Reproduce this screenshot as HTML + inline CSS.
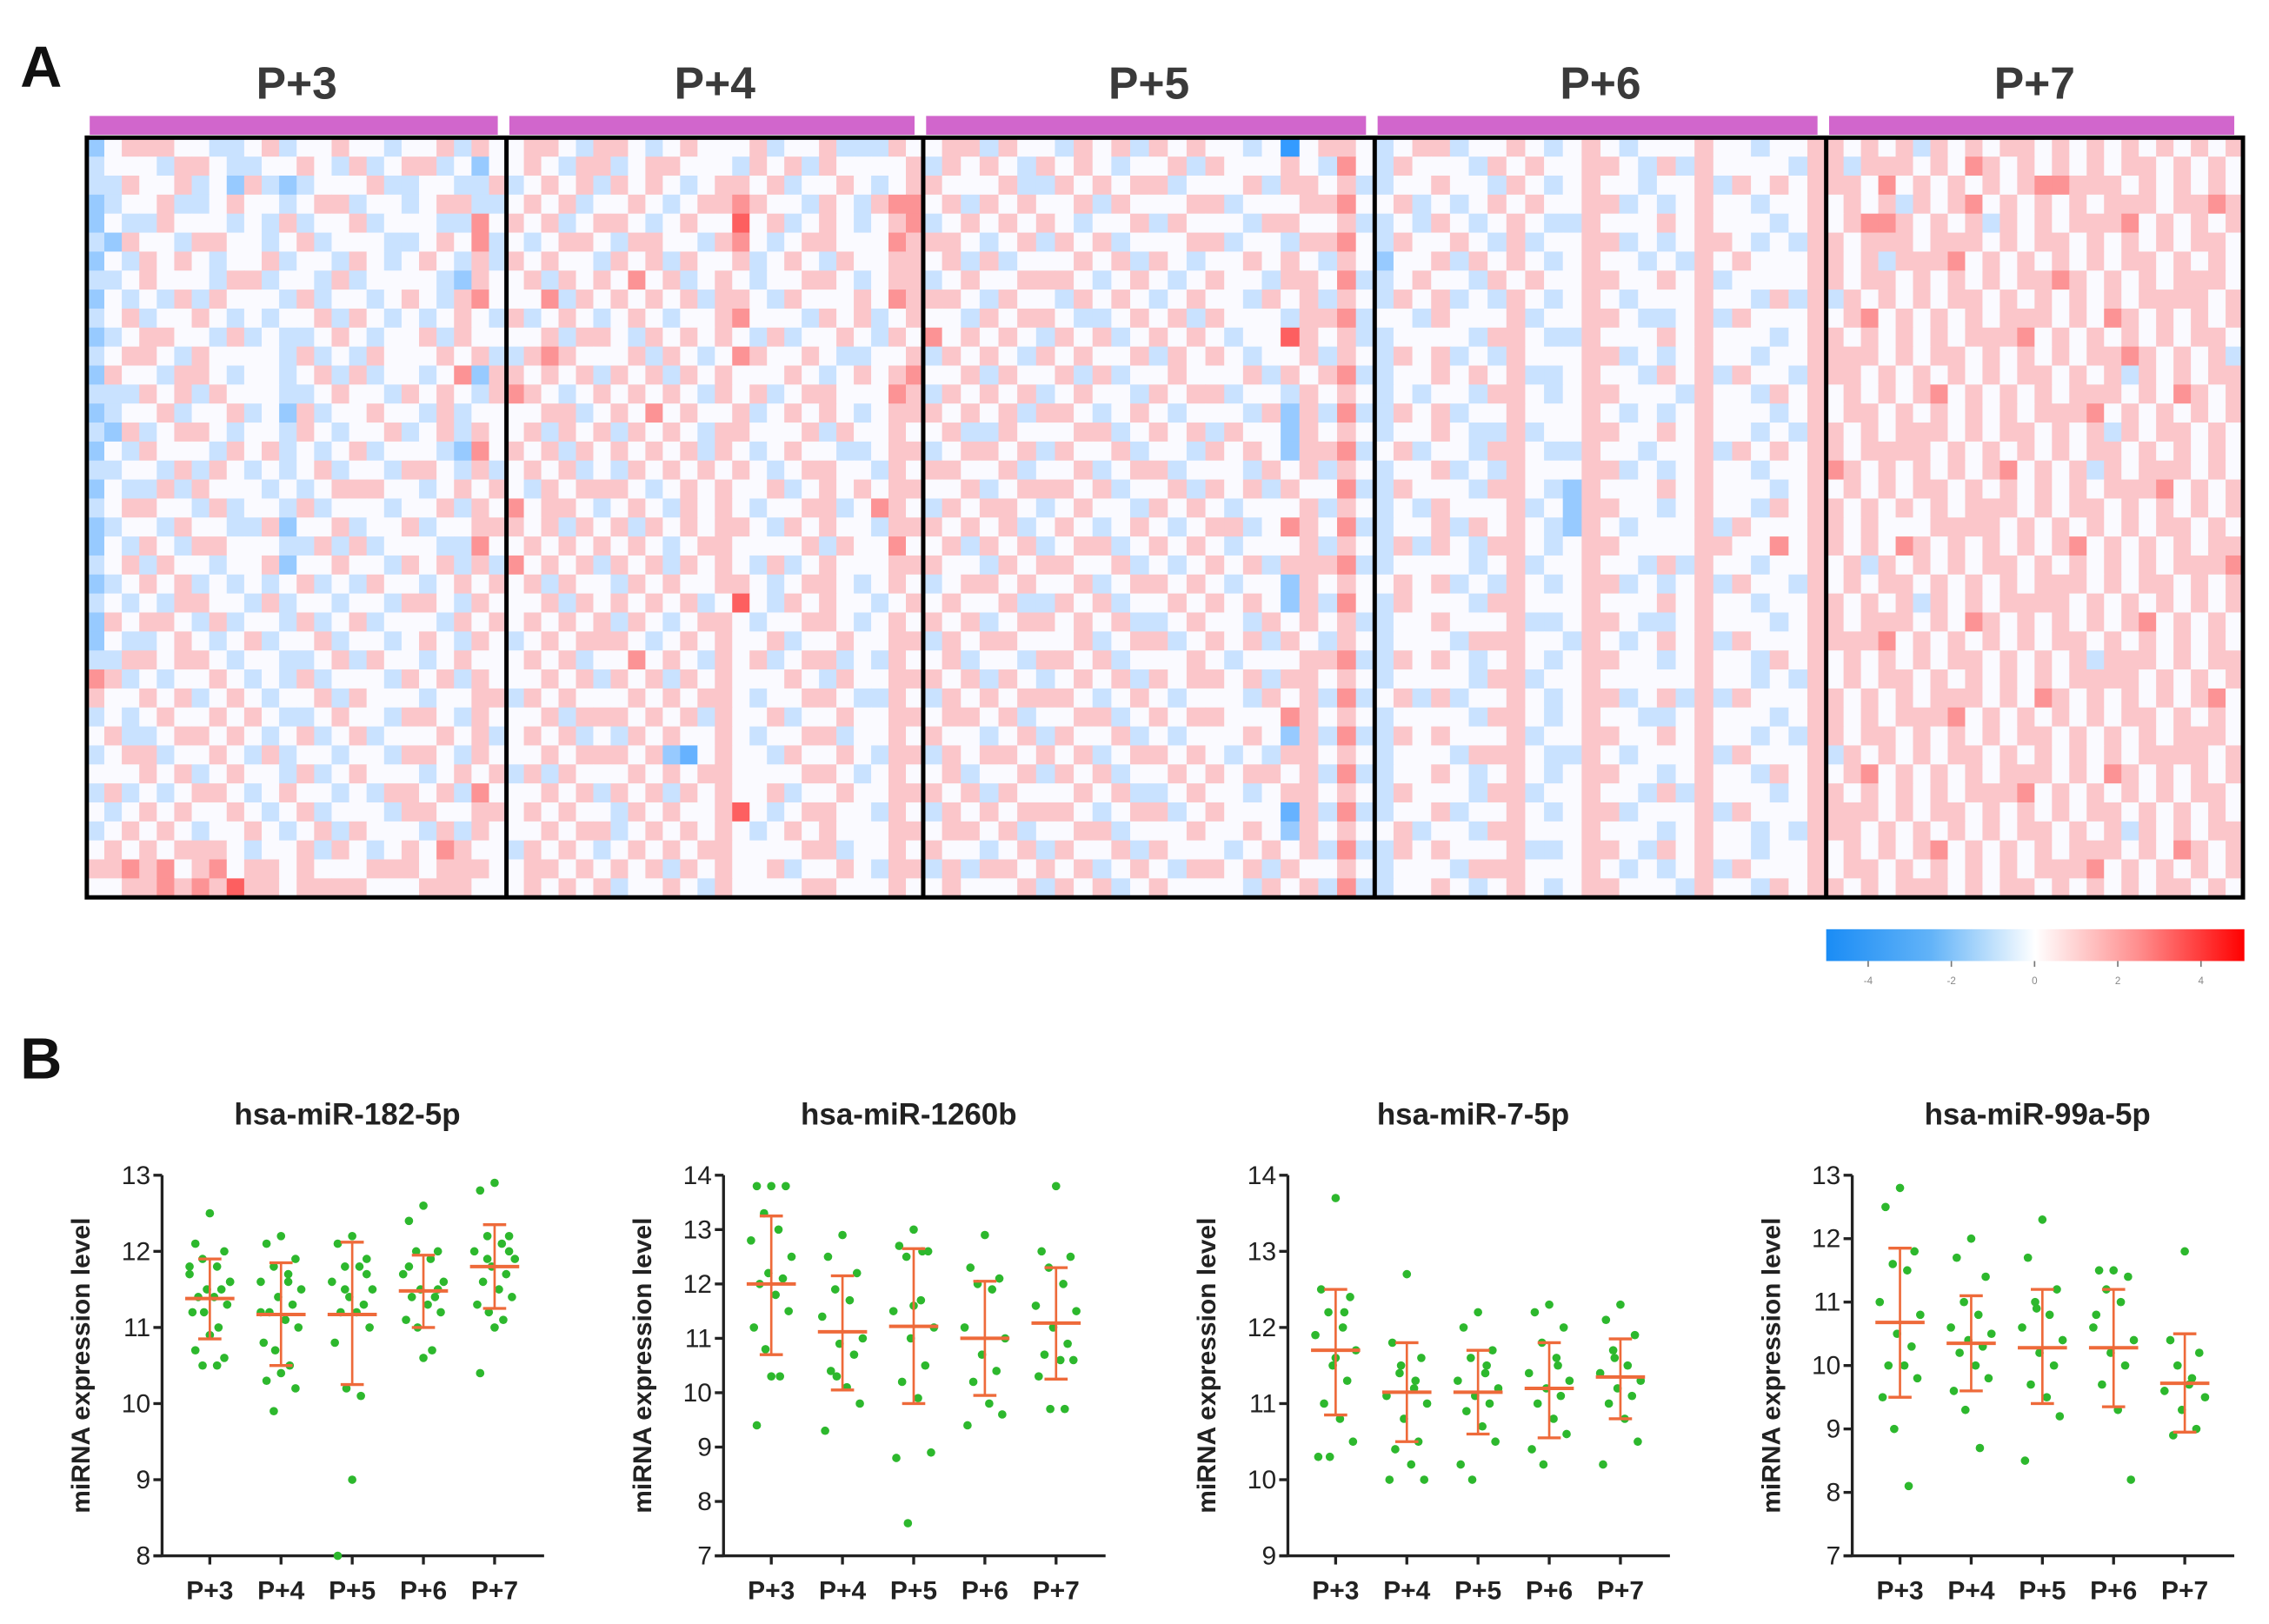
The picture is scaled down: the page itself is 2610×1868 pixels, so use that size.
<!DOCTYPE html>
<html><head><meta charset="utf-8">
<style>
html,body{margin:0;padding:0;background:#fff;}
svg{display:block;font-family:"Liberation Sans",Arial,sans-serif;}
</style></head>
<body>
<svg id="fig" width="2610" height="1868" viewBox="0 0 1568 1122" xmlns="http://www.w3.org/2000/svg">
<rect x="0" y="0" width="1568" height="1122" fill="#fff"/>
<text x="14" y="60" font-size="40" font-weight="bold" fill="#111">A</text>
<text x="14" y="745" font-size="40" font-weight="bold" fill="#111">B</text>
<g id="heat"></g>
<g id="cbar"></g>
<g id="charts"></g>
</svg>
<script>
const NS="http://www.w3.org/2000/svg";
function mk(tag,attrs,parent){const e=document.createElementNS(NS,tag);for(const k in attrs)e.setAttribute(k,attrs[k]);parent.appendChild(e);return e;}

// ---------- Heatmap data ----------
const groups=["P+3","P+4","P+5","P+6","P+7"];
const heatP3=[
"245554433453445443445354","344435543344543534553424","335445342532344453344335","234453345443455344345533",
"243354443435344534443364","325443554434534443345463","243545434453443543454353","334544435534435344443254",
"243435354443534434543564","345344543434453543434543","234554435343345434453544","345543544443534354445453",
"254435543443453534434625","333545354443345443545435","234453445342534454435344","325345543443543445345354",
"243544435453434534443264","334435354343453443554353","243353544434345554434545","345544353443534443445354",
"234435443352445344534455","243543554443353534443364","345354434452445443545353","234545343434534354434545",
"343435544353443443554354","254554353443534534443545","243345434534453443454354","335545543443345354434544",
"653434454343534443545354","544545345434453544434455","343454454543345443554354","453345545434534534445453",
"345534454353443443554354","444545345443534544434545","353434554345443435545364","434545445434534443554455",
"345454344543453544435354","454545554344535434546544","556564564554544455545554","445565657554555544455544"];
const heatP4=[
"455435543454445344533354","454355345544435453544445","345453545434554534454345","454534454345565443543566",
"545345543454474534543456","434554355443564345544465","545443545354453454354455","453545464534543445543455",
"446354545453554354445465","534543454344564443545345","445355435454543534454354","356544453543465445433445",
"545453545354544454345456","654345454543545345544465","445534546454453454543455","453545354543554445354454",
"545354545453543454433455","454534354545454345544354","435455543454544534545455","645543454354543445534654",
"545354535454554354544355","454545454345544445354464","645453545354543534544455","453544354544554345543454",
"445354545453474354544345","454545354345543445543454","345455543454544534454455","454534464543545345534354",
"445453545354544454354455","354544454545543445543354","445355545453544534454455","454534354544543445534454",
"445455545214544354454355","353544454545544445543454","445453545354544534454455","454544354544574345544354",
"445455345454543454544455","354543454545544445534454","455454545354544534454355","454545344543544445544454"];
const heatP5=[
"455354435453545443404554","354543545434453544454364","544453354545534445355453","453545445354445534445564",
"345454543445354443554453","554345354534445534435564","453534445453543445454354","345445554345434544355463",
"554354435454345443545354","443545543345453544435563","645454354534545434475453","354543545445354543445354",
"445354453534454445354563","354545345443545534435454","545453554345434443525363","453354445534545354425454",
"345545354453443545425563","554453445345534443545354","445345554534453545354463","354554345443545434445354",
"545453454345434553465463","453545345534545434445354","544354554453434545355563","345545445345545434425454",
"454453354534454545425364","545345545453345443545453","354554445345534545354354","453443554534445434445563",
"545354345453545545355454","354545554345434443545363","455453445534545544465454","544345354453434445425363",
"354554545345545434355454","453445354534454545545363","545354445453345443455454","354545554345534544415363",
"455453445534445445425454","544345354453544434545363","353554545345435545354454","454445354534544443545363"];
const heatP6=[
"345534454345434445443445","354443545445543535444435","344544354345443445354545","453434545445534345443445",
"343543454335444545444345","354454353445534345543435","244535454345443435454445","345443545445544545344445",
"354534354345434445443535","443544453445543345354445","344443554335444545444345","354534354445534345443445",
"344545453345443545354435","343443554345544435443545","354534454445434345444345","344543353445544545443435",
"453443554335443445354545","344534354445534345443445","354443554325444545444345","343544453425544345443545",
"344535454325434445354445","353543554345544445544645","344443453445443535443445","454534354345534345354435",
"354443554445444545443445","344544453345543345444345","344435554435434545354445","354543454345544345443545",
"344443553445444445443435","453534454345534535354445","344443554345443345444345","354544453445544545443435",
"344435554335434445354445","344543454345544345443545","354443553445443535444345","344534454345534445354445",
"453443554445444345443435","354544453345543545443445","344435554445434345354445","344543454345544435443545"];
const heatP7=[
"545453545455454545454545","454545355545465454545455","555454545455464545454566","454545455545565454535456",
"545453545455564545454566","454555455545455454545455","545454545355564545454545","654545455545455454545455",
"545454545455554535454545","454545455545465454545456","545454545455564545454545","654545355545455454545455",
"545453545455554545454545","454545455545465454545456","545454545455564545454545","454545455545455454535455",
"545454545455554545454545","454535455545465454545456","545454545455564545454545","454545455545455454545455",
"545454544455554545454545","454545455545465454545456","545454545455564535454545","454545455545455454545455",
"545453545455554545454545","454545455545465454545456","545454545455564545454545","454545355545455454545455",
"545454545455554545454545","454545455545465454545456","545454545455564545454545","454545455545455454545455",
"545454545455554535454545","454545455545465454545456","545454545455564545454545","454545455545455454545455",
"545453545455554545454545","454545455545465454545456","545454545455564545454545","454545455545455454545455"];
const heatPanels=[heatP3,heatP4,heatP5,heatP6,heatP7];

const heat=document.getElementById('heat');
const panelEdges=[60,350,638,950,1262,1550];
const hTop=95,hBot=620;
function heatColor(d){
  const v=(d-4)/4;
  const w=[250,250,255];
  const c=v<0?[30,144,255]:[255,20,20];
  const t=Math.min(1,Math.abs(v))*0.9;
  return `rgb(${Math.round(w[0]+(c[0]-w[0])*t)},${Math.round(w[1]+(c[1]-w[1])*t)},${Math.round(w[2]+(c[2]-w[2])*t)})`;
}
heatPanels.forEach((rows,p)=>{
  const x0=panelEdges[p],x1=panelEdges[p+1];
  const nC=rows[0].length,nR=rows.length;
  const cw=(x1-x0)/nC,ch=(hBot-hTop)/nR;
  const g=mk('g',{},heat);
  
  
  rows.forEach((row,r)=>{
    // P+7 rows are shifted per row to avoid vertical banding
    const shift=(p===4)?(r*5)%nC:0;
    for(let c=0;c<nC;c++){
      const cell=mk('rect',{x:x0+c*cw,y:hTop+r*ch,width:cw+0.4,height:ch+0.4,fill:heatColor(+row[(c+shift)%nC])},g);
      
      
    }
  });
  const bar=mk('rect',{x:x0+2,y:80,width:x1-x0-8,height:13,fill:'#d166cc'},heat);
  
  
  const t=mk('text',{x:(x0+x1)/2,y:68,'font-size':31,'font-weight':'bold',fill:'#3a3a3a','text-anchor':'middle'},heat);
  t.textContent=groups[p];
  
  
});
const box=mk('rect',{x:60,y:hTop,width:1490,height:hBot-hTop,fill:'none',stroke:'#000','stroke-width':3},heat);


[350,638,950,1262].forEach(x=>{
  const l=mk('line',{x1:x,x2:x,y1:hTop,y2:hBot,stroke:'#000','stroke-width':3},heat);
  
  
});

// ---------- Color bar ----------
const cbTicks=["-4","-2","0","2","4"];
const cb=document.getElementById('cbar');
const defs=mk('defs',{},cb);
const lg=mk('linearGradient',{id:'cbg',x1:0,x2:1,y1:0,y2:0},defs);
mk('stop',{offset:'0','stop-color':'#1a8cf5'},lg);
mk('stop',{offset:'0.25','stop-color':'#62b3f8'},lg);
mk('stop',{offset:'0.5','stop-color':'#ffffff'},lg);
mk('stop',{offset:'0.75','stop-color':'#ff8c8c'},lg);
mk('stop',{offset:'1','stop-color':'#ff0000'},lg);
const cbr=mk('rect',{x:1262,y:642,width:289,height:22,fill:'url(#cbg)'},cb);


cbTicks.forEach((t,i)=>{
  const x=1291+i*57.5;
  mk('line',{x1:x,x2:x,y1:664,y2:668,stroke:'#777','stroke-width':1},cb);
  const tx=mk('text',{x:x,y:680,'font-size':7,fill:'#888','text-anchor':'middle'},cb);
  tx.textContent=t;
  
  
});

// ---------- Dot plots ----------
const cats=["P+3","P+4","P+5","P+6","P+7"];
const titles=["hsa-miR-182-5p","hsa-miR-1260b","hsa-miR-7-5p","hsa-miR-99a-5p"];
const yMins=[8,7,9,7];
const yMaxs=[13,14,14,13];
const means=[[11.38,11.17,11.17,11.48,11.8],[12.0,11.12,11.22,11.0,11.28],[11.7,11.15,11.15,11.2,11.35],[10.68,10.35,10.28,10.28,9.72]];
const sdLo=[[10.85,10.5,10.25,11.0,11.25],[10.7,10.05,9.8,9.95,10.25],[10.85,10.5,10.6,10.55,10.8],[9.5,9.6,9.4,9.35,8.95]];
const sdHi=[[11.9,11.85,12.12,11.95,12.35],[13.25,12.15,12.65,12.05,12.3],[12.5,11.8,11.7,11.8,11.85],[11.85,11.1,11.2,11.2,10.5]];
const pts0=[[12.5,12.1,12.0,11.9,11.8,11.7,11.6,11.5,11.5,11.4,11.4,11.3,11.2,11.2,11.0,10.9,10.7,10.6,10.5,10.5,11.8,11.6],
[12.2,12.1,11.9,11.8,11.7,11.6,11.5,11.4,11.3,11.2,11.1,11.0,10.8,10.7,10.5,10.4,10.3,10.2,9.9,11.6,11.2],
[12.2,12.1,11.9,11.8,11.8,11.6,11.5,11.4,11.3,11.2,11.2,11.0,10.8,10.2,10.1,9.0,8.0,11.7,11.5],
[12.6,12.4,12.0,12.0,11.9,11.7,11.6,11.5,11.4,11.4,11.3,11.2,11.1,11.0,10.7,10.6,11.8,11.5],
[12.9,12.8,12.2,12.2,12.1,12.0,11.9,11.8,11.7,11.6,11.5,11.4,11.3,11.2,11.1,11.0,10.4,12.0,11.9]];
const pts1=[[13.8,13.8,13.8,13.3,13.0,12.8,12.5,12.2,12.1,12.0,11.8,11.5,11.2,10.8,10.3,10.3,9.4],
[12.9,12.5,12.2,11.9,11.7,11.4,11.0,10.9,10.7,10.4,10.1,9.8,9.3,10.3],
[13.0,12.7,12.6,12.5,11.7,11.5,11.2,11.0,10.5,10.2,9.9,8.9,8.8,7.6,12.6,11.6],
[12.9,12.3,12.1,12.0,11.9,11.2,11.0,10.7,10.4,10.2,9.8,9.6,9.4],
[13.8,12.6,12.5,12.3,12.0,11.6,11.5,11.2,10.9,10.7,10.6,10.6,10.3,9.7,9.7]];
const pts2=[[13.7,12.5,12.4,12.2,12.0,11.9,11.7,11.5,11.3,11.0,10.8,10.5,10.3,10.3,12.2,11.6],
[12.7,11.8,11.6,11.4,11.2,11.1,11.0,10.8,10.5,10.4,10.2,10.0,10.0,11.5,11.3],
[12.2,12.0,11.7,11.6,11.4,11.3,11.2,11.1,11.0,10.9,10.7,10.5,10.2,10.0,11.5],
[12.3,12.2,12.0,11.8,11.6,11.4,11.3,11.2,11.1,11.0,10.8,10.6,10.4,10.2,11.5],
[12.3,12.1,11.9,11.7,11.5,11.4,11.3,11.2,11.1,11.0,10.8,10.5,10.2,11.6]];
const pts3=[[12.8,12.5,11.8,11.6,11.5,11.0,10.8,10.5,10.3,10.0,10.0,9.8,9.5,9.0,8.1],
[12.0,11.7,11.4,11.0,10.8,10.6,10.5,10.4,10.3,10.2,10.0,9.8,9.6,9.3,8.7],
[12.3,11.7,11.2,11.0,10.8,10.6,10.4,10.2,10.0,9.7,9.5,9.2,8.5,10.9],
[11.5,11.5,11.4,11.2,11.0,10.6,10.4,10.2,10.0,9.7,9.3,8.2,10.8],
[11.8,10.4,10.2,10.0,9.8,9.6,9.5,9.3,9.0,8.9,9.7]];
const allPts=[pts0,pts1,pts2,pts3];

const axisXs=[112,500,890,1280];
const plotTop=812,plotBot=1075,catStep=49.2,catOff=33,axisLen=264;
const jitterPattern=[0,-10,10,-5,5,-14,14,-2,8,-8,3,12,-12,-4,6];
const charts=document.getElementById('charts');
titles.forEach((title,k)=>{
  const ax=axisXs[k];
  const g=mk('g',{},charts);
  
  
  const yS=v=>plotBot-(v-yMins[k])/(yMaxs[k]-yMins[k])*(plotBot-plotTop);
  const xS=i=>ax+catOff+i*catStep;
  const tt=mk('text',{x:ax+128,y:777,'font-size':21,'font-weight':'bold',fill:'#222','text-anchor':'middle'},g);
  tt.textContent=title;
  
  
  const yl=mk('text',{x:0,y:0,'font-size':18,'font-weight':'bold',fill:'#222','text-anchor':'middle',transform:`translate(${ax-50},${(plotTop+plotBot)/2}) rotate(-90)`},g);
  yl.textContent='miRNA expression level';
  
  
  const yax=mk('line',{x1:ax,x2:ax,y1:plotTop,y2:plotBot,stroke:'#222','stroke-width':2},g);
  
  
  const xax=mk('line',{x1:ax-6,x2:ax+axisLen,y1:plotBot,y2:plotBot,stroke:'#222','stroke-width':2},g);
  
  
  for(let v=yMins[k];v<=yMaxs[k];v++){
    const y=yS(v);
    mk('line',{x1:ax-6,x2:ax,y1:y,y2:y,stroke:'#222','stroke-width':2},g);
    const tl=mk('text',{x:ax-8,y:y+6,'font-size':18,fill:'#222','text-anchor':'end'},g);
    tl.textContent=v;
    
    
  }
  cats.forEach((c,i)=>{
    const x=xS(i);
    mk('line',{x1:x,x2:x,y1:plotBot,y2:plotBot+6,stroke:'#222','stroke-width':2},g);
    const cl=mk('text',{x:x,y:plotBot+30,'font-size':18,'font-weight':'bold',fill:'#222','text-anchor':'middle'},g);
    cl.textContent=c;
    
    
    const vals=allPts[k][i];
    vals.forEach((v,j)=>{
      const off=jitterPattern[j%jitterPattern.length];
      const d=mk('circle',{cx:x+off,cy:yS(v),r:2.9,fill:'#2db82d'},g);
      
      
    });
    const eb=mk('line',{x1:x,x2:x,y1:yS(sdHi[k][i]),y2:yS(sdLo[k][i]),stroke:'#ee6a3a','stroke-width':1.6},g);
    
    
    [sdHi[k][i],sdLo[k][i]].forEach(v=>{
      const cap=mk('line',{x1:x-8,x2:x+8,y1:yS(v),y2:yS(v),stroke:'#ee6a3a','stroke-width':2},g);
      
      
    });
    const mn=mk('line',{x1:x-17,x2:x+17,y1:yS(means[k][i]),y2:yS(means[k][i]),stroke:'#ee6a3a','stroke-width':2.4},g);
    
    
  });
});
</script>
</body></html>
